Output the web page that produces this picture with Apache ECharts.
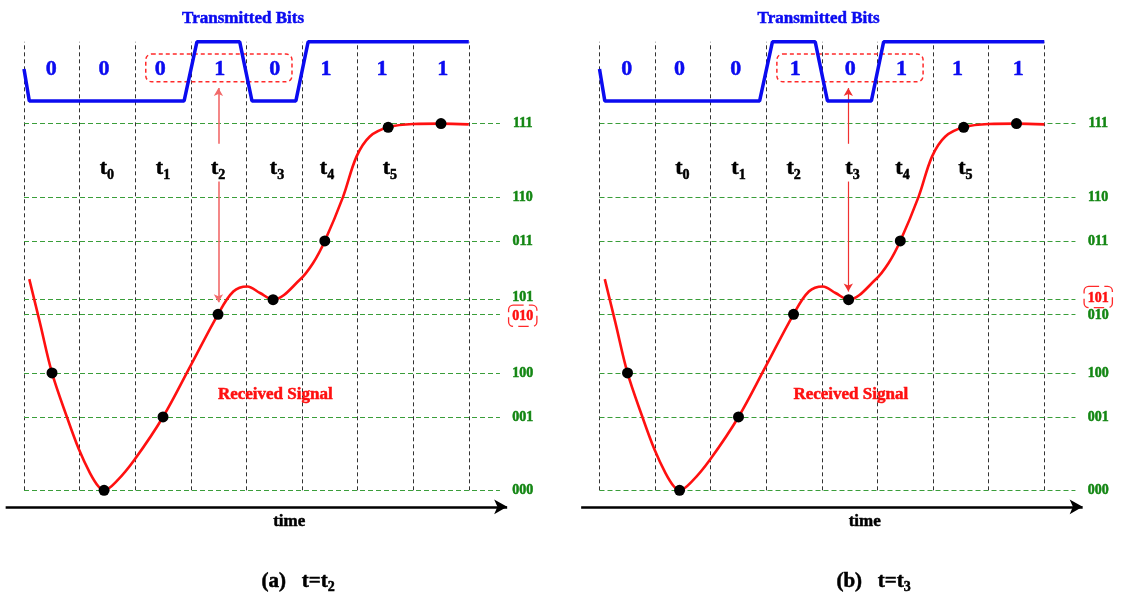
<!DOCTYPE html>
<html>
<head>
<meta charset="utf-8">
<script src="https://cdn.jsdelivr.net/npm/echarts@6/dist/echarts.min.js"></script>
<style>
  html, body { margin: 0; padding: 0; background: #fff; }
  #main { width: 1124px; height: 593px; }
</style>
</head>
<body>
<div id="main"></div>
<script>
// transmitted bits, one per symbol interval
const bits = ['0', '0', '0', '1', '0', '1', '1', '1'];
const bitLabelX = [0.49, 1.44, 2.45, 3.52, 4.51, 5.43, 6.44, 7.53];
const bitLabelY = 11.49;
// blue bit waveform (corner points)
const waveX = [0, 0.095, 2.88, 3.11, 3.88, 4.10, 4.89, 5.11, 8];
const waveY = [11.49, 10.62, 10.62, 12.23, 12.23, 10.62, 10.62, 12.23, 12.23];
// received signal (red curve)
const curveX = [0.095, 0.288, 0.504, 0.767, 0.989, 1.187, 1.336, 1.44, 1.667, 1.99, 2.5, 2.99, 3.49, 3.765, 4.016, 4.245, 4.48, 4.96, 5.2, 5.41, 5.74, 5.98, 6.22, 6.55, 7.0, 7.49, 8.0];
const curveY = [5.76, 4.56, 3.2, 2.02, 1.11, 0.47, 0.11, 0, 0.25, 0.84, 2.0, 3.38, 4.8, 5.42, 5.56, 5.38, 5.2, 5.74, 6.2, 6.8, 8.01, 9.1, 9.65, 9.9, 9.99, 10.0, 9.98];
// sampled points
const sampleX = [0.504, 1.44, 2.5, 3.49, 4.48, 5.41, 6.55, 7.5];
const sampleY = [3.2, 0, 2.0, 4.8, 5.2, 6.8, 9.9, 10.0];
// decision levels
const levelCodes = ['000', '001', '100', '010', '101', '011', '110', '111'];
const levelY = [0, 2.0, 3.2, 4.8, 5.2, 6.8, 8.0, 10.0];
const levelLabelY = [0, 2.0, 3.2, 4.76, 5.27, 6.8, 8.0, 10.0];
// sample time labels t0..t5
const timeSubs = ['0', '1', '2', '3', '4', '5'];
const timeLabelX = [1.49, 2.5, 3.49, 4.55, 5.45, 6.58];
const timeLabelY = 8.71;
const gridLineX = [0, 1, 2, 3, 4, 5, 6, 7, 8];
// per panel
const panelTags = ['(a)', '(b)'];
const panelSubs = ['2', '3'];
const markedLevel = ['010', '101'];
const boxX = [[2.19, 4.82], [3.19, 5.82]];
const boxY = [11.14, 11.9];
const arrowX = [3.497, 4.475];
const arrowTipY = [5.13, 5.42];

const FONT = "'Liberation Serif', 'Times New Roman', serif";
const GREEN = '#138613';
const BLUE = '#0b0bf0';
const RED = '#ff1010';

function bold(size, color, extra) {
  return Object.assign({
    fontFamily: FONT, fontWeight: 'bold', fontSize: size, color: color,
    textBorderColor: color, textBorderWidth: 0.5
  }, extra || {});
}

// text placed at data coordinates; rich style "a" carries the font
function textSeries(i, points, style, z, rich) {
  return {
    type: 'scatter', xAxisIndex: i, yAxisIndex: i, symbolSize: 1, clip: false, silent: true, z: z || 6,
    itemStyle: { color: 'rgba(0,0,0,0)', opacity: 1 },
    label: {
      show: true, position: 'inside',
      formatter: rich ? undefined : (p => '{a|' + p.name + '}'),
      rich: rich || { a: style }
    },
    data: points
  };
}

function panel(i) {
  const s = [];
  const mlBase = { silent: true, animation: false, label: { show: false }, emphasis: { disabled: true } };
  // vertical time grid
  s.push({
    type: 'line', xAxisIndex: i, yAxisIndex: i, data: [], z: 1,
    markLine: Object.assign({}, mlBase, {
      z: 1, symbol: 'none',
      lineStyle: { color: '#333', type: [4, 3], width: 1 },
      data: gridLineX.map(x => [{ coord: [x, 0] }, { coord: [x, 12.23] }])
    })
  });
  // level lines
  s.push({
    type: 'line', xAxisIndex: i, yAxisIndex: i, data: [], z: 1,
    markLine: Object.assign({}, mlBase, {
      z: 1, symbol: 'none',
      lineStyle: { color: '#3a9e3a', type: [5, 3], width: 1.1 },
      data: levelY.map(y => [{ coord: [0, y] }, { coord: [8.56, y] }])
    })
  });
  // time axis
  s.push({
    type: 'line', xAxisIndex: i, yAxisIndex: i, data: [], z: 2,
    markLine: Object.assign({}, mlBase, {
      z: 2, symbol: ['none', 'arrow'], symbolSize: [11, 13],
      lineStyle: { color: '#000', type: 'solid', width: 2.5 },
      data: [[{ coord: [-0.33, -0.45] }, { coord: [8.69, -0.45] }]]
    })
  });
  // red pointer arrow at the current sampling instant
  s.push({
    type: 'line', xAxisIndex: i, yAxisIndex: i, data: [], z: 2,
    markLine: Object.assign({}, mlBase, {
      z: 2, symbolSize: [7, 8],
      lineStyle: { color: i === 0 ? '#f26a6a' : '#f03030', type: 'solid', width: i === 0 ? 1.6 : 1.2 },
      data: [
        [{ coord: [arrowX[i], 10.97], symbol: 'arrow' }, { coord: [arrowX[i], 9.45], symbol: 'none' }],
        [{ coord: [arrowX[i], 8.42], symbol: 'none' }, { coord: [arrowX[i], arrowTipY[i]], symbol: 'arrow' }]
      ]
    })
  });
  // bit waveform
  s.push({
    type: 'line', xAxisIndex: i, yAxisIndex: i, showSymbol: false, symbol: 'none', clip: false, silent: true, z: 3,
    lineStyle: { color: BLUE, width: 3.5 },
    data: waveX.map((x, k) => [x, waveY[k]])
  });
  // received signal
  s.push({
    type: 'line', xAxisIndex: i, yAxisIndex: i, showSymbol: false, symbol: 'none', clip: false, silent: true, z: 3,
    smooth: 0.35,
    lineStyle: { color: RED, width: 2.6 },
    data: curveX.map((x, k) => [x, curveY[k]])
  });
  // samples
  s.push({
    type: 'scatter', xAxisIndex: i, yAxisIndex: i, symbolSize: 11, silent: true, z: 4,
    itemStyle: { color: '#000', opacity: 1 },
    data: sampleX.map((x, k) => [x, sampleY[k]])
  });
  // dashed box around the 3-bit window
  s.push({
    type: 'custom', xAxisIndex: i, yAxisIndex: i, silent: true, clip: false, z: 3,
    data: [[boxX[i][0], boxY[0], boxX[i][1], boxY[1]]],
    renderItem(params, api) {
      const p0 = api.coord([api.value(0), api.value(3)]);
      const p1 = api.coord([api.value(2), api.value(1)]);
      return {
        type: 'rect',
        shape: { x: p0[0], y: p0[1], width: p1[0] - p0[0], height: p1[1] - p0[1], r: 6 },
        style: { fill: 'none', stroke: '#ff2a2a', lineWidth: 1.5, lineDash: [4, 3] }
      };
    }
  });
  // bit labels
  s.push(textSeries(i, bits.map((b, k) => ({ value: [bitLabelX[k], bitLabelY], name: b })), bold(22, BLUE)));
  // level labels
  s.push(textSeries(i, levelCodes.map((c, k) => {
    const item = { value: [8.97, levelLabelY[k]], name: c };
    if (c === markedLevel[i]) {
      item.label = {
        rich: {
          a: bold(14, RED, {
            borderColor: '#ff2a2a', borderType: 'dashed', borderWidth: 1.3,
            borderRadius: 4, padding: [4, 3, 2, 3], backgroundColor: '#fff'
          })
        }
      };
    }
    return item;
  }), bold(14, GREEN), 7));
  // t_k labels
  const subRich = {
    t: bold(22, '#000', { lineHeight: 22, padding: [0, 0, 3, 0], verticalAlign: 'bottom' }),
    s: bold(14, '#000', { lineHeight: 14, verticalAlign: 'bottom' })
  };
  const tSeries = textSeries(i, timeSubs.map((t, k) => ({ value: [timeLabelX[k], timeLabelY], name: t })), null, 6, subRich);
  tSeries.label.formatter = p => '{t|t}{s|' + p.name + '}';
  s.push(tSeries);
  // titles and captions
  s.push(textSeries(i, [{ value: [3.94, 12.85], name: 'Transmitted Bits' }], bold(17, BLUE)));
  s.push(textSeries(i, [{ value: [4.52, 2.61], name: 'Received Signal' }], bold(17, RED)));
  s.push(textSeries(i, [{ value: [4.77, -0.86], name: 'time' }], bold(17, '#000')));
  const capRich = {
    m: bold(21, '#000', { lineHeight: 22, padding: [0, 0, 3, 0], verticalAlign: 'bottom' }),
    s: bold(14, '#000', { lineHeight: 14, verticalAlign: 'bottom' })
  };
  const cap = textSeries(i, [{ value: [4.93, -2.55], name: panelTags[i] }], null, 6, capRich);
  cap.label.formatter = p => '{m|' + p.name + '   t=t}{s|' + panelSubs[i] + '}';
  s.push(cap);
  return s;
}

const chart = echarts.init(document.getElementById('main'));
const PANEL_SHIFT = 575.5;
const gridBase = { left: 1.76, top: 13.6, width: 544.88, height: 579.86 };
chart.setOption({
  animation: false,
  backgroundColor: '#fff',
  grid: [0, 1].map(i => Object.assign({}, gridBase, { left: gridBase.left + i * PANEL_SHIFT })),
  xAxis: [0, 1].map(i => ({ gridIndex: i, type: 'value', min: -0.4, max: 9.4, show: false })),
  yAxis: [0, 1].map(i => ({ gridIndex: i, type: 'value', min: -2.8, max: 13, show: false })),
  series: panel(0).concat(panel(1))
});
</script>
</body>
</html>
